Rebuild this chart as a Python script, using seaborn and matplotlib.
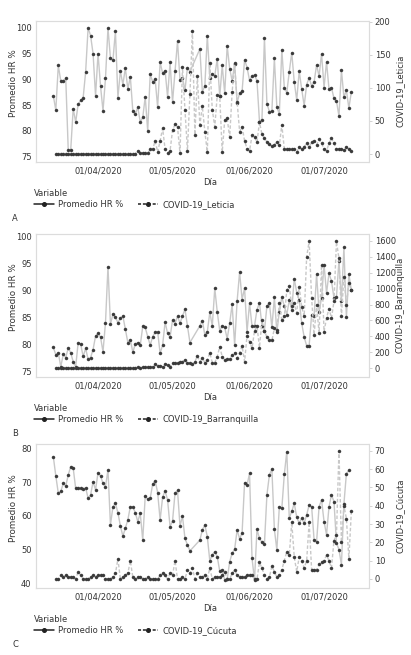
import numpy as np
import pandas as pd
import matplotlib
matplotlib.use("Agg")
import matplotlib.pyplot as plt
import matplotlib.dates as mdates
from matplotlib.lines import Line2D
import seaborn as sns

nan = np.nan
start_date = "2020-03-14"
n_days = 121
tick_dates = ["2020-04-01", "2020-05-01", "2020-06-01", "2020-07-01"]

hr_leticia = [86.8, 84.0, 92.7, 89.7, 89.7, 90.2, 76.3, 76.3, 84.3, 81.7,
              85.2, 85.9, 86.4, 91.4, 100.0, 98.5, 95.0, 86.8, 95.0, 88.7,
              83.9, 90.2, 100.0, 94.1, 93.7, 99.4, 86.4, 91.6, 89.0, 92.2,
              88.1, 90.5, 83.9, 83.2, 84.6, 81.7, 82.6, 86.6, 80.0, 91.0,
              89.5, 90.0, 84.6, 93.3, 91.2, 91.7, 86.6, 93.3, 85.6, 91.6,
              97.4, 89.9, 90.2, 87.9, 92.3, 91.5, nan, nan, nan, 95.9,
              87.6, 88.7, 98.5, 90.3, 91.0, 90.7, 94.0, 86.7, 92.7, 87.3,
              96.5, 92.1, 89.7, 93.0, 85.5, 87.3, 87.7, 93.8, 92.3, 89.8,
              90.6, 90.9, 89.7, 81.8, 82.2, 98.1, 85.3, 83.7, 83.9, 94.1,
              84.6, 83.3, 95.8, 88.4, 87.4, 91.5, 95.2, 89.5, 86.0, 91.6,
              88.1, 84.9, 89.0, 90.3, 88.7, 89.5, 92.8, 90.6, 95.0, 88.4,
              93.4, 88.1, 88.4, 86.3, 85.8, 82.9, 91.8, 86.5, 87.9, 84.4,
              87.6]

covid_leticia = [nan] + [0] * 33 + [
    5, 1, 2, 2, 1, 7, 7, 20, 3, 20,
    39, 7, 1, 5, 36, 45, 41, 1, 131, 67,
    5, 91, 186, 29, 118, 44, 72, 34, 3, 137,
    67, 41, 89, 87, 3, 51, 54, 25, 94, 137,
    79, 34, 41, 20, 8, 5, 28, 25, 18, 48,
    30, 24, 18, 15, 12, 14, 18, 13, 44, 8,
    7, 7, 7, 8, 3, 10, 8, 11, 16, 10,
    18, 20, 14, 22, 16, 8, 5, 16, 24, 16,
    8, 8, 8, 6, 11, 8, 5]

hr_barranquilla = [79.4, 78.0, 78.4, 75.8, 78.1, 77.5, 79.3, 78.4, 76.7, 75.8,
                   80.3, 80.0, 77.7, 79.2, 77.2, 77.5, 79.0, 81.5, 82.0, 81.3,
                   78.6, 84.0, 94.4, 83.7, 85.6, 85.0, 84.0, 84.8, 85.2, 82.8,
                   80.3, 80.8, 78.5, 80.0, 80.3, 79.8, 83.3, 83.1, 81.4, 79.8,
                   81.4, 82.2, 82.3, 78.3, 79.8, 84.1, 82.0, 81.3, 84.5, 83.8,
                   85.2, 83.9, 85.2, 86.5, 83.4, 80.3, nan, nan, nan, 83.4,
                   84.4, 81.7, 82.3, 85.9, 83.4, 90.4, 86.0, 82.5, 83.4, 83.1,
                   81.0, 83.9, 87.4, 79.8, 88.0, 93.4, 88.3, 90.4, 82.3, 87.6,
                   83.4, 83.4, 86.4, 87.7, 83.4, 82.5, 87.1, 87.6, 83.1, 88.7,
                   82.3, 86.0, 88.7, 87.1, 85.5, 88.2, 86.4, 92.2, 89.6, 88.2,
                   83.9, 81.3, 79.7, 79.7, 85.5, 85.2, 93.0, 86.0, 88.6, 94.8,
                   89.5, 93.2, 91.7, 88.6, 88.8, 95.5, 88.0, 98.0, 85.0, 93.0,
                   90.0]

covid_barranquilla = [nan,
    0, 0, 0, 0, 0, 1, 1, 0, 2, 1,
    3, 2, 1, 4, 3, 5, 2, 6, 4, 7,
    3, 8, 5, 6, 4, 9, 7, 5, 8, 6,
    10, 7, 9, 12, 8, 14, 11, 15, 13,
    21, 50, 33, 33, 21, 54, 46, 21, 63, 71,
    63, 84, 84, 104, 63, 71, 50, 84, 155, 84,
    125, 71, 104, 196, 71, 71, 146, 272, 146, 104,
    113, 113, 167, 196, 125, 196, 280, 84, 410, 330,
    250, 470, 530, 260, 600, 470, 390, 360, 350, 500,
    480, 820, 600, 650, 980, 1030, 780, 815, 690, 1025,
    770, 650, 1400, 1590, 880, 420, 800, 440, 1300, 460,
    630, 750, 630, 840, 1590, 1380, 650, 1150, 800, 1070,
    980]

hr_cucuta = [77.5, 71.8, 66.7, 67.2, 69.6, 68.8, 72.1, 74.6, 74.1, 68.1,
             68.1, 68.1, 68.0, 68.3, 65.2, 66.2, 70.1, 67.7, 72.8, 71.8,
             69.6, 68.6, 73.6, 57.3, 62.7, 63.7, 60.9, 57.0, 54.0, 56.3,
             58.8, 62.7, 62.7, 60.9, 58.3, 60.7, 52.8, 65.9, 64.9, 65.2,
             69.4, 70.4, 66.9, 58.8, 65.5, 67.4, 64.7, 56.8, 58.5, 66.7,
             67.5, 57.0, 59.9, 53.3, 51.4, 49.6, nan, nan, nan, 52.8,
             55.8, 57.3, 53.8, 46.7, 48.4, 49.4, 47.9, 43.6, 43.9, 41.0,
             41.2, 46.4, 48.9, 50.1, 55.8, 53.2, 54.9, 69.8, 69.1, 72.6,
             47.4, 41.0, 56.0, 53.3, 52.1, 51.7, 66.2, 72.1, 73.8, 56.0,
             49.9, 62.7, 62.2, 72.3, 79.0, 59.3, 61.3, 63.7, 59.6, 57.8,
             59.3, 57.8, 60.3, 63.2, 62.7, 52.8, 52.3, 62.7, 64.7, 58.3,
             54.4, 62.7, 66.2, 64.2, 52.0, 50.0, 45.5, 63.5, 72.5, 73.5,
             nan]

covid_cucuta = [nan,
    0, 0, 2, 1, 2, 1, 1, 1, 0, 4,
    2, 0, 0, 0, 1, 2, 1, 2, 2, 2,
    0, 0, 0, 1, 3, 11, 0, 1, 2, 3,
    10, 1, 0, 1, 1, 0, 0, 1, 0, 0,
    0, 0, 2, 3, 2, 0, 3, 2, 10, 0,
    0, 1, 0, 5, 3, 6, 0, 3, 1, 1,
    2, 0, 6, 0, 1, 1, 1, 2, 4, 0,
    0, 3, 5, 2, 1, 1, 1, 2, 2, 2,
    0, 0, 9, 6, 2, 0, 1, 7, 4, 1,
    2, 5, 10, 15, 13, 31, 12, 4, 12, 10,
    6, 10, 31, 5, 5, 5, 8, 9, 10, 13,
    10, 6, 21, 24, 70, 20, 40, 33, 11, 37]

panels = [
    ("COVID-19_Leticia", hr_leticia, covid_leticia, "A", (74.0, 101.4), (-11.6, 201.5),
     [75, 80, 85, 90, 95, 100], [0, 50, 100, 150, 200]),
    ("COVID-19_Barranquilla", hr_barranquilla, covid_barranquilla, "B", (73.94, 100.5), (-105, 1684),
     [75, 80, 85, 90, 95, 100], [0, 200, 400, 600, 800, 1000, 1200, 1400, 1600]),
    ("COVID-19_Cúcuta", hr_cucuta, covid_cucuta, "C", (38.7, 81.27), (-4.75, 73.65),
     [40, 50, 60, 70, 80], [0, 10, 20, 30, 40, 50, 60, 70]),
]

sns.set_theme(style="white")
plt.rcParams['font.family'] = ['DejaVu Sans']

W, H = 411, 655
fig = plt.figure(figsize=(W / 100, H / 100), dpi=100)

dates = pd.date_range(start_date, periods=n_days, freq="D")
x0 = pd.Timestamp(start_date)
xlim = (x0 - pd.Timedelta(days=7.1), x0 + pd.Timedelta(days=126.9))

# axes boxes in pixels: (top, bottom)
boxes = [(20.7, 161.7), (234.0, 376.7), (444.0, 587.7)]
left_px, right_px = 35.7, 368.5

LINE = "#c8c8c8"
MK = "#3a3a3a"
TXT = "#333333"
FS = 6

for (cname, hr, cov, letter, ylim_l, ylim_r, yt_l, yt_r), (top, bot) in zip(panels, boxes):
    ax = fig.add_axes([left_px / W, 1 - bot / H, (right_px - left_px) / W, (bot - top) / H])
    ax2 = ax.twinx()
    df_hr = pd.DataFrame({"Día": dates, "v": hr}).dropna()
    df_cv = pd.DataFrame({"Día": dates, "v": cov}).dropna()
    sns.lineplot(data=df_hr, x="Día", y="v", ax=ax, estimator=None, color=LINE, lw=1.0,
                 marker="o", markersize=2.2, markerfacecolor=MK, markeredgecolor=MK,
                 markeredgewidth=0.3)
    sns.lineplot(data=df_cv, x="Día", y="v", ax=ax2, estimator=None, color=LINE, lw=1.0,
                 linestyle=(0, (2.5, 1.5)),
                 marker="o", markersize=2.2, markerfacecolor=MK, markeredgecolor=MK,
                 markeredgewidth=0.3)
    for a in (ax, ax2):
        a.set_xlim(*xlim)
        for s in a.spines.values():
            s.set_color("#dcdcdc")
            s.set_linewidth(0.8)
        a.set_xlabel("")
        a.set_ylabel("")
    ax.set_ylim(*ylim_l)
    ax2.set_ylim(*ylim_r)
    ax.set_yticks(yt_l)
    ax2.set_yticks(yt_r)
    ax.set_xticks(pd.to_datetime(tick_dates))
    ax.xaxis.set_major_formatter(mdates.DateFormatter("%d/%m/%Y"))
    ax.tick_params(axis="x", length=0, pad=3.2, labelsize=FS, labelcolor=TXT)
    ax.tick_params(axis="y", length=0, pad=3.0, labelsize=FS, labelcolor=TXT)
    ax2.tick_params(axis="y", length=2, width=0.6, color="#cccccc", pad=2.5,
                    labelsize=FS, labelcolor=TXT)
    ax.grid(False)
    ax2.grid(False)

    cy = (top + bot) / 2
    fig.text(13 / W, 1 - (cy - 8) / H, "Promedio HR %", rotation=90, ha="center",
             va="center", fontsize=6.3, color=TXT)
    fig.text(400 / W, 1 - cy / H, cname, rotation=90, ha="center", va="center",
             fontsize=FS, color=TXT)
    fig.text(210 / W, 1 - (bot + 20.5) / H, "Día", ha="center", va="center",
             fontsize=FS, color=TXT)

    handles = [Line2D([], [], color="#222222", lw=1.1, marker="o", markersize=2.6),
               Line2D([], [], color="#222222", lw=1.1, linestyle=(0, (2, 1.2)),
                      marker="o", markersize=2.6)]
    leg = ax.legend(handles, ["Promedio HR %", cname], title="Variable",
                    loc="upper left", bbox_to_anchor=(34 / W, 1 - (bot + 27) / H),
                    bbox_transform=fig.transFigure, ncol=2, frameon=False,
                    fontsize=FS, title_fontsize=FS, handlelength=2.4,
                    columnspacing=1.8, handletextpad=0.5, borderaxespad=0,
                    borderpad=0, labelspacing=0.3)
    leg._legend_box.align = "left"
    for t in leg.get_texts():
        t.set_color(TXT)
    leg.get_title().set_color(TXT)

    fig.text(15 / W, 1 - (bot + 56.5) / H, letter, ha="center", va="center",
             fontsize=FS, color=TXT)

fig.savefig("out.png", dpi=100, facecolor="white")
